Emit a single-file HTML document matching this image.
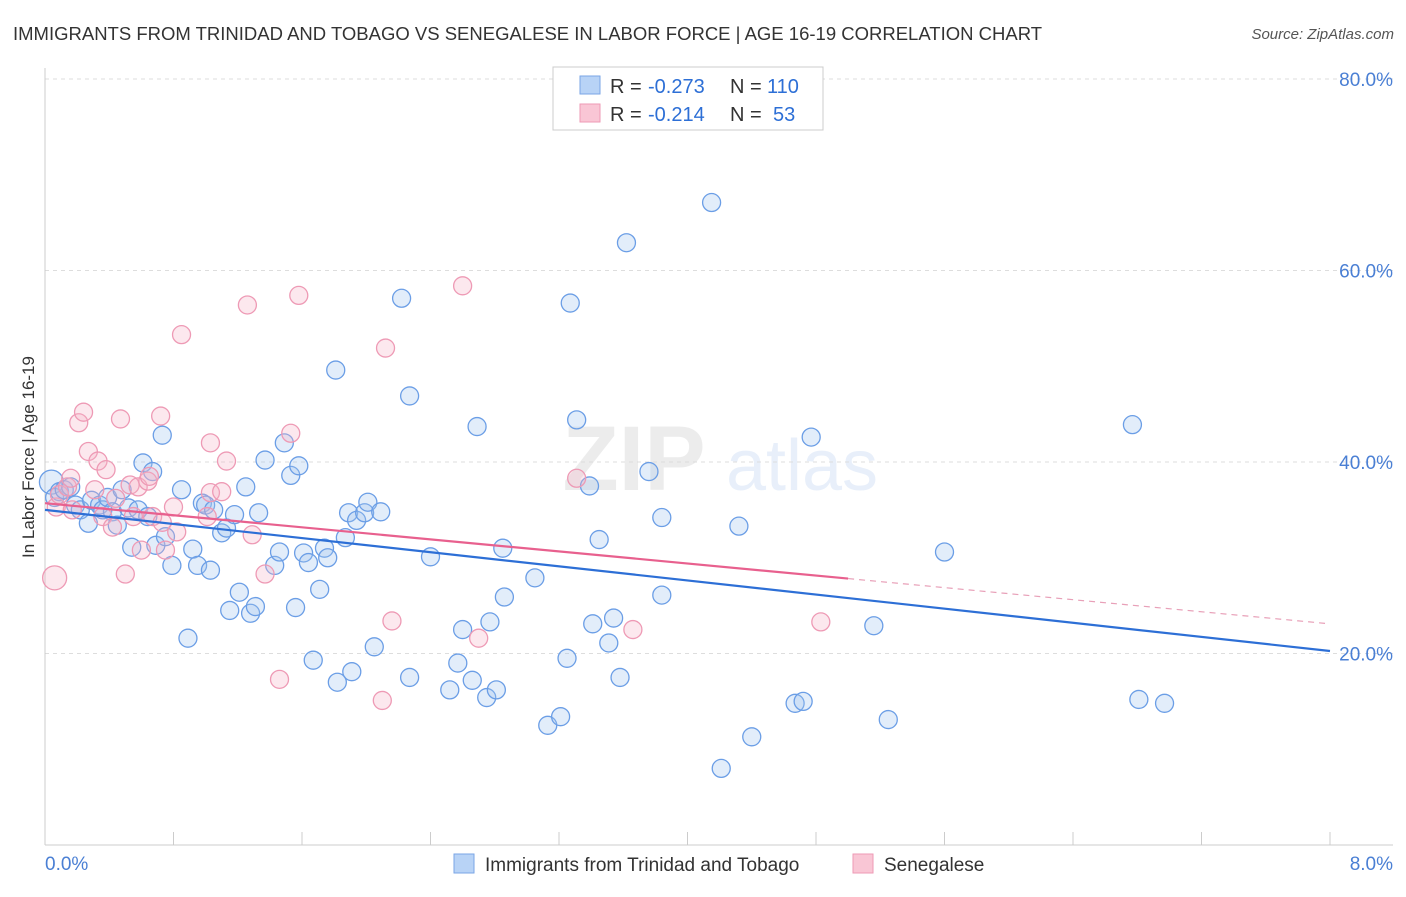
<!DOCTYPE html>
<html><head><meta charset="utf-8"><style>
body{margin:0;background:#fff;font-family:"Liberation Sans",sans-serif}
svg text{font-family:"Liberation Sans",sans-serif}
</style></head><body>
<svg id="chart" width="1406" height="892" xmlns="http://www.w3.org/2000/svg">
<text x="13" y="40" font-size="18.5" fill="#333">IMMIGRANTS FROM TRINIDAD AND TOBAGO VS SENEGALESE IN LABOR FORCE | AGE 16-19 CORRELATION CHART</text>
<text x="1394" y="39" font-size="15" fill="#555" text-anchor="end" font-style="italic">Source: ZipAtlas.com</text>
<g opacity="0.15">
<text x="634" y="490" font-size="92" font-family="Liberation Serif" fill="#888" text-anchor="middle" font-weight="bold">ZIP</text>
<text x="802" y="490" font-size="72" fill="#6a9be0" text-anchor="middle">atlas</text>
</g>
<g id="grid"></g><g id="axes"></g><g id="marks"></g><g id="lines"></g>
<g>
<rect x="553" y="67" width="270" height="63" fill="#fff" stroke="#ccc"/>
<rect x="580" y="76" width="20" height="18" fill="#b8d3f6" stroke="#7aa6e6"/>
<rect x="580" y="104" width="20" height="18" fill="#f9c6d5" stroke="#ee9ab5"/>
<text x="610" y="93" font-size="20" fill="#333">R =</text>
<text x="648" y="93" font-size="20" fill="#2d6fd6">-0.273</text>
<text x="730" y="93" font-size="20" fill="#333">N =</text>
<text x="767" y="93" font-size="20" fill="#2d6fd6">110</text>
<text x="610" y="121" font-size="20" fill="#333">R =</text>
<text x="648" y="121" font-size="20" fill="#2d6fd6">-0.214</text>
<text x="730" y="121" font-size="20" fill="#333">N =</text>
<text x="773" y="121" font-size="20" fill="#2d6fd6">53</text>
</g>
<g>
<rect x="454" y="854" width="20" height="19" fill="#b8d3f6" stroke="#7aa6e6"/>
<text x="485" y="871" font-size="19" fill="#333">Immigrants from Trinidad and Tobago</text>
<rect x="853" y="854" width="20" height="19" fill="#f9c6d5" stroke="#ee9ab5"/>
<text x="884" y="871" font-size="19" fill="#333">Senegalese</text>
</g>
<text transform="translate(34,457) rotate(-90)" font-size="17" fill="#333" text-anchor="middle">In Labor Force | Age 16-19</text>
</svg>
<script>
const yTicks=[20,40,60,80];
const yTickLabels=["20.0%","40.0%","60.0%","80.0%"];
const xEndLabels=["0.0%","8.0%"];
const blueX=[.04,.06,.09,.12,.16,.19,.22,.27,.29,.34,.36,.39,.42,.45,.48,.52,.54,.58,.61,.64,.67,.69,.73,.75,.79,.85,.89,.92,.95,.98,1.00,1.03,1.05,1.10,1.13,1.15,1.18,1.21,1.25,1.28,1.31,1.33,1.37,1.43,1.46,1.49,1.53,1.56,1.58,1.61,1.64,1.71,1.67,1.74,1.76,1.81,1.82,1.87,1.89,1.91,1.94,1.99,2.01,2.05,2.09,2.22,2.27,2.27,2.40,2.52,2.57,2.60,2.66,2.69,2.75,2.77,2.81,2.85,2.86,3.05,3.13,3.21,3.25,3.27,3.31,3.39,3.41,3.45,3.51,3.54,3.58,3.62,3.76,3.84,3.84,4.15,4.21,4.32,4.40,4.67,4.72,4.77,5.16,5.25,5.60,6.77,6.81,6.97];
const blueY=[37.9,36.3,36.9,37.1,37.4,35.5,35.0,33.6,36.0,35.5,35.0,36.3,34.8,33.4,37.1,35.2,31.1,35.0,39.9,34.3,39.0,31.3,42.8,32.2,29.2,37.1,21.6,30.9,29.2,35.7,35.5,28.7,35.0,32.6,33.1,24.5,34.5,26.4,37.4,24.2,24.9,34.7,40.2,29.2,30.6,42.0,38.6,24.8,39.6,30.5,29.5,26.7,19.3,31.0,30.0,49.6,17.0,32.1,34.7,18.1,33.9,34.7,35.8,20.7,34.8,57.1,17.5,46.9,30.1,16.2,19.0,22.5,17.2,43.7,15.4,23.3,16.2,31.0,25.9,27.9,12.5,13.4,19.5,56.6,44.4,37.5,23.1,31.9,21.1,23.7,17.5,62.9,39.0,34.2,26.1,67.1,8.0,33.3,11.3,14.8,15.0,42.6,22.9,13.1,30.6,43.9,15.2,14.8];
const pinkX=[.06,.07,.09,.14,.16,.17,.21,.24,.27,.31,.33,.36,.38,.42,.44,.47,.50,.53,.55,.58,.60,.64,.65,.67,.72,.73,.75,.80,.82,.85,1.01,1.03,1.03,1.10,1.13,1.26,1.29,1.37,1.46,1.53,1.58,2.10,2.12,2.16,2.60,2.70,3.31,3.66,4.83];
const pinkY=[27.9,35.3,36.6,37.4,38.3,35.0,44.1,45.2,41.1,37.1,40.1,34.3,39.2,33.2,36.2,44.5,28.3,37.6,34.3,37.4,30.8,38.0,38.5,34.3,44.8,33.7,30.8,35.3,32.7,53.3,34.3,42.0,36.8,36.9,40.1,56.4,32.4,28.3,17.3,43.0,57.4,15.1,51.9,23.4,58.4,21.6,38.3,22.5,23.3];
const blueTrend=[35.0,20.26];
const pinkTrend=[35.7,23.1];
const pinkSolidEnd=5.0;
const NS="http://www.w3.org/2000/svg";
const X=v=>45+v/8*1285, Y=v=>845-v/20*191.5;
function mk(t,a,p){const e=document.createElementNS(NS,t);for(const k in a)e.setAttribute(k,a[k]);p.appendChild(e);return e;}
const grid=document.getElementById('grid'),axes=document.getElementById('axes'),marks=document.getElementById('marks'),lines=document.getElementById('lines');
yTicks.forEach((t,i)=>{
 const g=mk('line',{x1:45,x2:1393,y1:Y(t),y2:Y(t),stroke:'#ddd','stroke-dasharray':'4,4'},grid);
 
 
 const tx=mk('text',{x:1393,y:Y(t)+7,'font-size':19,fill:'#4a7fd4','text-anchor':'end'},axes);
 tx.textContent=yTickLabels[i];
 
 
});
const ax=mk('line',{x1:45,x2:45,y1:68,y2:845,stroke:'#ccc'},axes);


const bx=mk('line',{x1:45,x2:1393,y1:845,y2:845,stroke:'#ccc'},axes);


for(let i=0;i<=10;i++){const tk=mk('line',{x1:X(i*0.8),x2:X(i*0.8),y1:832,y2:845,stroke:'#ccc'},axes);
 
 }
[[0,'start',45],[8,'end',1393]].forEach((d,i)=>{const t=mk('text',{x:d[2],y:870,'font-size':19,fill:'#4a7fd4','text-anchor':d[1]},axes);t.textContent=xEndLabels[i];
 
 });
function pts(xs,ys,fill,stroke,name){xs.forEach((x,i)=>{const c=mk('circle',{cx:X(x),cy:Y(ys[i]),r:i===0?12:9,fill:fill,stroke:stroke,'stroke-width':1.3},marks);
 
 });}
pts(blueX,blueY,'rgba(160,195,240,0.3)','#6b9ee6','trinidad-point');
pts(pinkX,pinkY,'rgba(245,180,200,0.3)','#ee9ab5','senegalese-point');
const bl=mk('line',{x1:X(0),y1:Y(blueTrend[0]),x2:X(8),y2:Y(blueTrend[1]),stroke:'#2d6fd6','stroke-width':2.2},lines);


const pAt=x=>pinkTrend[0]+(pinkTrend[1]-pinkTrend[0])*x/8;
const pl=mk('line',{x1:X(0),y1:Y(pinkTrend[0]),x2:X(pinkSolidEnd),y2:Y(pAt(pinkSolidEnd)),stroke:'#e8608e','stroke-width':2.2},lines);


const pd=mk('line',{x1:X(pinkSolidEnd),y1:Y(pAt(pinkSolidEnd)),x2:X(8),y2:Y(pinkTrend[1]),stroke:'#e8a0b8','stroke-width':1.2,'stroke-dasharray':'6,5'},lines);


</script>
</body></html>
